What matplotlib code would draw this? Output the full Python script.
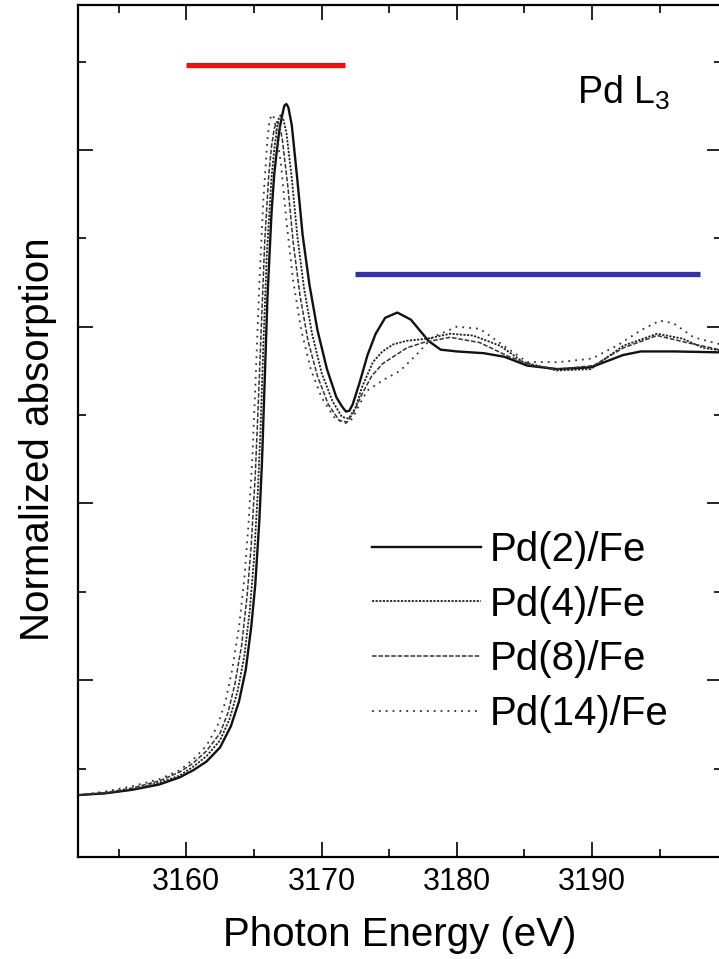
import matplotlib
matplotlib.use("Agg")
import matplotlib.pyplot as plt

plt.rcParams['font.family'] = ['Liberation Sans', 'DejaVu Sans']
plt.rcParams['mathtext.fontset'] = 'custom'
plt.rcParams['mathtext.rm'] = 'Liberation Sans'

# Pd L3 edge XANES
e_pd2 = [3152, 3154, 3156, 3158, 3159.5, 3160.5, 3161.5, 3162.5, 3163.3, 3163.9,
         3164.4, 3164.8, 3165.1, 3165.4, 3165.6, 3165.8, 3166.0, 3166.3, 3166.5, 3166.7,
         3166.9, 3167.1, 3167.25, 3167.4, 3167.55, 3167.8, 3168.2, 3168.6, 3169.1, 3169.7,
         3170.4, 3171.1, 3171.5, 3171.8, 3172.05, 3172.3, 3172.8, 3173.4, 3174.0, 3174.7,
         3175.6, 3176.6, 3177.9, 3178.8, 3180, 3182, 3183.5, 3185.2, 3187.4, 3189.9,
         3192.3, 3193.6, 3196, 3200]
mu_pd2 = [0.175, 0.18, 0.19, 0.205, 0.225, 0.245, 0.27, 0.31, 0.37, 0.44,
          0.53, 0.65, 0.77, 0.95, 1.12, 1.35, 1.58, 1.82, 1.93, 2.00,
          2.06, 2.10, 2.125, 2.13, 2.12, 2.07, 1.92, 1.76, 1.62, 1.49,
          1.38, 1.30, 1.275, 1.26, 1.262, 1.28, 1.34, 1.42, 1.48, 1.525,
          1.54, 1.52, 1.46, 1.435, 1.43, 1.425, 1.415, 1.39, 1.38, 1.385,
          1.42, 1.43, 1.43, 1.427]

e_pd4 = [3152, 3154, 3156, 3158, 3159.5, 3160.5, 3161.5, 3162.5, 3163.2, 3163.8,
         3164.3, 3164.7, 3165.0, 3165.3, 3165.5, 3165.7, 3165.95, 3166.3, 3166.5, 3166.7,
         3166.85, 3167.0, 3167.15, 3167.4, 3167.8, 3168.2, 3168.7, 3169.3, 3170.0, 3170.8,
         3171.5, 3172.0, 3172.5, 3173.0, 3173.8, 3174.5, 3175.3, 3176.3, 3177.8, 3179.5,
         3181.2, 3183.2, 3184.9, 3187.4, 3189.9, 3192.3, 3194.8, 3196.7, 3198.2, 3200]
mu_pd4 = [0.175, 0.18, 0.19, 0.21, 0.23, 0.255, 0.285, 0.33, 0.39, 0.47,
          0.57, 0.70, 0.84, 1.04, 1.22, 1.45, 1.70, 1.92, 2.00, 2.06,
          2.09, 2.10, 2.09, 2.05, 1.92, 1.76, 1.61, 1.48, 1.37, 1.29,
          1.245, 1.24, 1.27, 1.33, 1.40, 1.43, 1.45, 1.46, 1.466, 1.48,
          1.475, 1.446, 1.40, 1.376, 1.38, 1.446, 1.48, 1.466, 1.44, 1.43]

e_pd8 = [3152, 3154, 3156, 3158, 3159.5, 3160.5, 3161.5, 3162.5, 3163.1, 3163.6,
         3164.1, 3164.5, 3164.8, 3165.1, 3165.3, 3165.55, 3165.8, 3166.1, 3166.3, 3166.5,
         3166.7, 3166.9, 3167.1, 3167.5, 3167.9, 3168.4, 3169.0, 3169.7, 3170.5, 3171.3,
         3171.9, 3172.4, 3173.0, 3173.7, 3174.5, 3175.1, 3176.3, 3177.5, 3179.5, 3181.7,
         3183.7, 3185.6, 3187.6, 3190.1, 3192.3, 3194.8, 3197, 3200]
mu_pd8 = [0.175, 0.182, 0.195, 0.215, 0.24, 0.265, 0.30, 0.35, 0.41, 0.49,
          0.60, 0.74, 0.88, 1.08, 1.26, 1.50, 1.74, 1.93, 2.01, 2.06,
          2.08, 2.07, 2.03, 1.90, 1.74, 1.59, 1.46, 1.36, 1.28, 1.235,
          1.23, 1.26, 1.31, 1.36, 1.395, 1.41, 1.44, 1.455, 1.47, 1.455,
          1.418, 1.39, 1.38, 1.39, 1.44, 1.475, 1.455, 1.43]

e_pd14 = [3152, 3154, 3156, 3158, 3159.5, 3160.5, 3161.5, 3162.3, 3162.9, 3163.4,
          3163.9, 3164.3, 3164.6, 3164.9, 3165.15, 3165.4, 3165.7, 3166.0, 3166.15, 3166.3,
          3166.45, 3166.6, 3167.0, 3167.4, 3167.9, 3168.5, 3169.2, 3170.0, 3170.9, 3171.7,
          3172.3, 3172.8, 3173.4, 3174.6, 3175.8, 3177, 3178.2, 3180, 3181.7, 3183.7,
          3185.2, 3187.6, 3190, 3192, 3193.6, 3195, 3196, 3197.5, 3200]
mu_pd14 = [0.175, 0.185, 0.20, 0.22, 0.245, 0.275, 0.315, 0.37, 0.44, 0.53,
           0.65, 0.79, 0.94, 1.14, 1.37, 1.62, 1.86, 2.03, 2.08, 2.10,
           2.095, 2.07, 1.96, 1.80, 1.63, 1.49, 1.38, 1.30, 1.245, 1.225,
           1.24, 1.28, 1.32, 1.35, 1.375, 1.42, 1.47, 1.50, 1.494, 1.44,
           1.40, 1.40, 1.41, 1.45, 1.49, 1.517, 1.51, 1.47, 1.445]

labels = ["Pd(2)/Fe", "Pd(4)/Fe", "Pd(8)/Fe", "Pd(14)/Fe"]

# highlighted energy ranges (start, end, level)
red_range = [3160, 3171.7, 2.24]
blue_range = [3172.5, 3198.0, 1.65]

fig = plt.figure(figsize=(7.19, 9.59), dpi=100)
ax = fig.add_axes([0.1085, 0.1064, 0.8957, 0.8884])

ax.plot(e_pd2, mu_pd2, color='#111111', lw=1.7, ls='-', label=labels[0])
ax.plot(e_pd4, mu_pd4, color='#222222', lw=1.3, ls=(0, (1.2, 0.8)), label=labels[1])
ax.plot(e_pd8, mu_pd8, color='#333333', lw=1.1, ls=(0, (3, 1.2)), label=labels[2])
ax.plot(e_pd14, mu_pd14, color='#333333', lw=1.3, ls=(0, (1, 2.8)), label=labels[3])

ax.hlines(red_range[2], red_range[0], red_range[1], color='#f01010', lw=3.8)
ax.hlines(blue_range[2], blue_range[0], blue_range[1], color='#34349c', lw=3.8)

ax.text(3188.9, 2.13, r"Pd L$_\mathrm{3}$", fontsize=27, ha='left', va='baseline')

ax.set_xlim(3152, 3199.6)
ax.set_ylim(0, 2.41)
ax.set_xticks([3160, 3170, 3180, 3190])
ax.set_xticks([3155, 3165, 3175, 3185, 3195], minor=True)
ax.set_yticks([0.5, 1.0, 1.5, 2.0])
ax.set_yticks([0.25, 0.75, 1.25, 1.75, 2.25], minor=True)
ax.set_yticklabels([])
ax.tick_params(which='both', direction='in', top=True, right=True, width=1.2,
               labelsize=22, pad=7)
ax.tick_params(which='major', length=11)
ax.tick_params(which='minor', length=6)
for s in ax.spines.values():
    s.set_linewidth(1.6)

ax.set_xlabel("Photon Energy (eV)", fontsize=29, labelpad=14)
ax.set_ylabel("Normalized absorption", fontsize=29, va='center')
ax.yaxis.set_label_coords(-0.062, 0.49)

ax.legend(loc='upper left', bbox_to_anchor=(0.4565, 0.383), frameon=False,
          fontsize=29, handlelength=2.7, handletextpad=0.22, labelspacing=0.42,
          borderpad=0, borderaxespad=0)

plt.savefig("out.png", dpi=100)
